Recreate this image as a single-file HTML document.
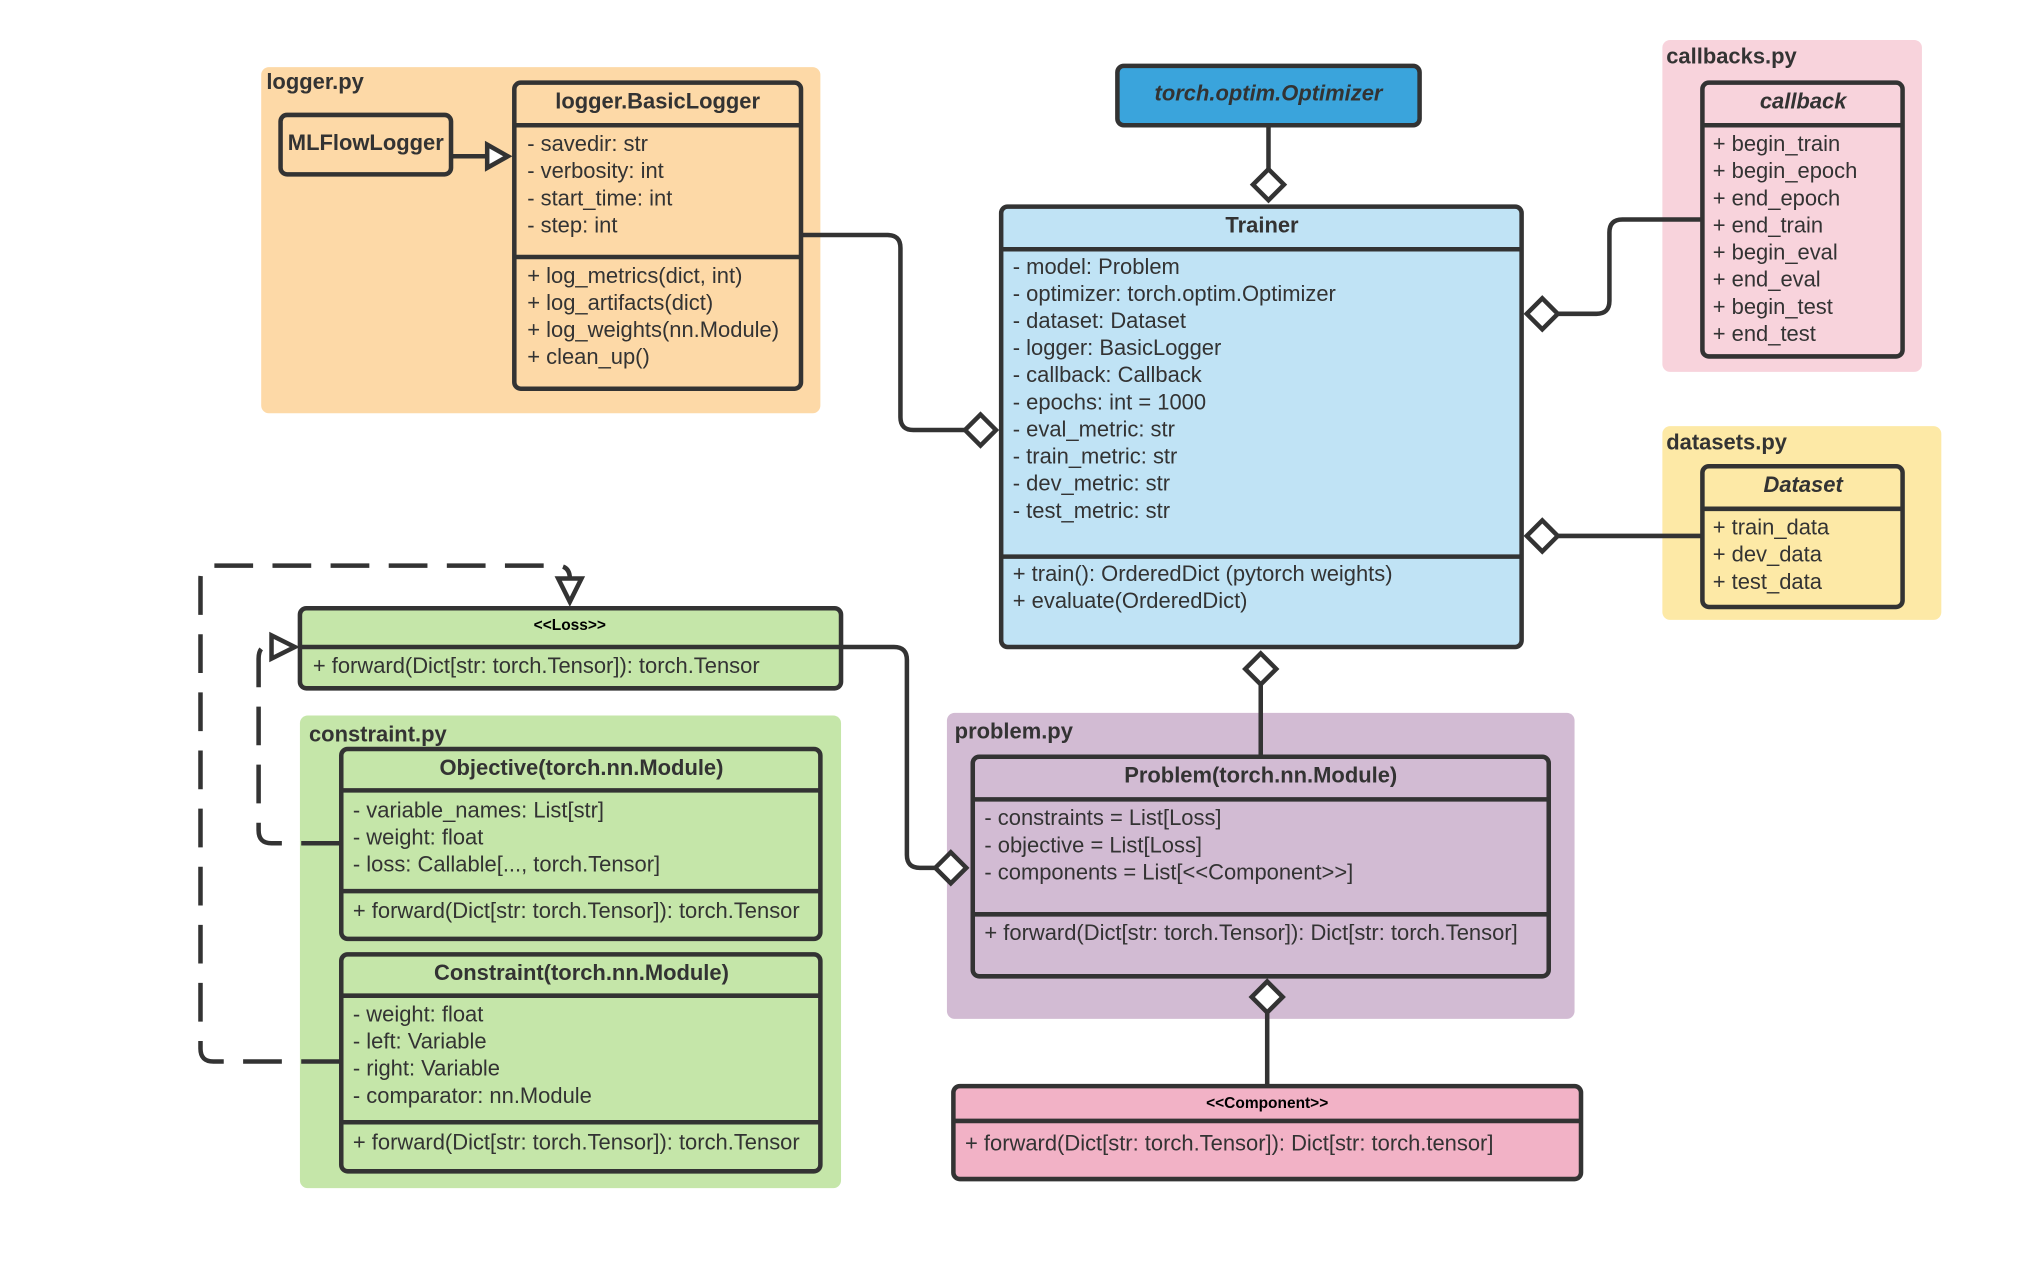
<!DOCTYPE html>
<html><head><meta charset="utf-8"><style>html,body{margin:0;padding:0;background:#fff}svg{display:block}</style></head>
<body>
<svg width="2023" height="1263" viewBox="0 0 1566 978" xmlns="http://www.w3.org/2000/svg" font-family="Liberation Sans, Arial, sans-serif" font-size="17" fill="#333">
<rect width="1566" height="978" fill="#fff"/>
<rect x="202" y="52" width="433" height="268" rx="6" fill="#fdd9a7"/>
<rect x="1287" y="31" width="201" height="257" rx="6" fill="#f8d3dc"/>
<rect x="1287" y="330" width="216" height="150" rx="6" fill="#fde9a6"/>
<rect x="232" y="554" width="419" height="366" rx="6" fill="#c5e6a9"/>
<rect x="733" y="552" width="486" height="237" rx="6" fill="#d2bbd3"/>
<g font-weight="bold" font-size="17">
<text x="206" y="69">logger.py</text>
<text x="1290" y="49">callbacks.py</text>
<text x="1290" y="348">datasets.py</text>
<text x="239" y="574">constraint.py</text>
<text x="739" y="572">problem.py</text>
</g>
<g stroke="#333" stroke-width="3.5" fill="none" stroke-linejoin="round">
<path d="M621 182 H687 Q697 182 697 192 V323 Q697 333 707 333 H748"/>
<path d="M982 97 V131"/>
<path d="M1206 243 H1236 Q1246 243 1246 233 V180 Q1246 170 1256 170 H1317"/>
<path d="M1206 415 H1317"/>
<path d="M976 530 V586"/>
<path d="M981 784 V841"/>
<path d="M651 501 H692 Q702 501 702 511 V662 Q702 672 712 672 H724"/>
<path d="M349 121 H378"/>
<path d="M263 822 H165 Q155 822 155 812 V448 Q155 438 165 438 H431 Q441 438 441 448" stroke-dasharray="30,15"/>
<path d="M263 653 H210 Q200 653 200 643 V510 Q200 500 208 500" stroke-dasharray="30,15"/>
</g>
<g stroke="#333" stroke-width="3.5" fill="#fff" stroke-linejoin="miter">
<polygon points="377,112 393,121 377,130"/>
<polygon points="432,448 450,448 441,466"/>
<polygon points="210,492 228,501 210,510"/>
<polygon points="982,131 994,143 982,155 970,143"/>
<polygon points="1206,243 1194,231 1182,243 1194,255"/>
<polygon points="1206,415 1194,403 1182,415 1194,427"/>
<polygon points="976,506 988,518 976,530 964,518"/>
<polygon points="748,672 736,660 724,672 736,684"/>
<polygon points="771,333 759,321 747,333 759,345"/>
<polygon points="981,760 993,772 981,784 969,772"/>
</g>
<g stroke="#333" stroke-width="3.5">
<rect x="217" y="89" width="132" height="46" rx="5" fill="#fdd9a7"/>
<rect x="398" y="64" width="222" height="237" rx="5" fill="#fdd9a7"/>
<line x1="398" y1="97" x2="620" y2="97"/><line x1="398" y1="199" x2="620" y2="199"/>
<rect x="865" y="51" width="234" height="46" rx="5" fill="#3aa4dc"/>
<rect x="775" y="160" width="403" height="341" rx="5" fill="#c0e3f5"/>
<line x1="775" y1="193" x2="1178" y2="193"/><line x1="775" y1="431" x2="1178" y2="431"/>
<rect x="1318" y="64" width="155" height="212" rx="5" fill="#f8d3dc"/>
<line x1="1318" y1="97" x2="1473" y2="97"/>
<rect x="1318" y="361" width="155" height="109" rx="5" fill="#fde9a6"/>
<line x1="1318" y1="394" x2="1473" y2="394"/>
<rect x="232" y="471" width="419" height="62" rx="5" fill="#c5e6a9"/>
<line x1="232" y1="501" x2="651" y2="501"/>
<rect x="264" y="580" width="371" height="147" rx="5" fill="#c5e6a9"/>
<line x1="264" y1="612" x2="635" y2="612"/><line x1="264" y1="690" x2="635" y2="690"/>
<rect x="264" y="739" width="371" height="168" rx="5" fill="#c5e6a9"/>
<line x1="264" y1="771" x2="635" y2="771"/><line x1="264" y1="869" x2="635" y2="869"/>
<rect x="753" y="586" width="446" height="170" rx="5" fill="#d2bbd3"/>
<line x1="753" y1="619" x2="1199" y2="619"/><line x1="753" y1="708" x2="1199" y2="708"/>
<rect x="738" y="841" width="486" height="72" rx="5" fill="#f2b2c6"/>
<line x1="738" y1="868" x2="1224" y2="868"/>
</g>
<g font-weight="bold" text-anchor="middle">
<text x="283" y="116">MLFlowLogger</text>
<text x="509" y="84">logger.BasicLogger</text>
<text x="982" y="78" font-style="italic">torch.optim.Optimizer</text>
<text x="977" y="180">Trainer</text>
<text x="1396" y="84" font-style="italic">callback</text>
<text x="1396" y="381" font-style="italic">Dataset</text>
<text x="441" y="488" font-size="12" fill="#000">&lt;&lt;Loss&gt;&gt;</text>
<text x="450" y="600">Objective(torch.nn.Module)</text>
<text x="450" y="759">Constraint(torch.nn.Module)</text>
<text x="976" y="606">Problem(torch.nn.Module)</text>
<text x="981" y="858" font-size="12" fill="#000">&lt;&lt;Component&gt;&gt;</text>
</g>
<g>
<text x="408" y="117">- savedir: str</text>
<text x="408" y="138">- verbosity: int</text>
<text x="408" y="159">- start_time: int</text>
<text x="408" y="180">- step: int</text>
<text x="408" y="219">+ log_metrics(dict, int)</text>
<text x="408" y="240">+ log_artifacts(dict)</text>
<text x="408" y="261">+ log_weights(nn.Module)</text>
<text x="408" y="282">+ clean_up()</text>

<text x="784" y="212">- model: Problem</text>
<text x="784" y="233">- optimizer: torch.optim.Optimizer</text>
<text x="784" y="254">- dataset: Dataset</text>
<text x="784" y="275">- logger: BasicLogger</text>
<text x="784" y="296">- callback: Callback</text>
<text x="784" y="317">- epochs: int = 1000</text>
<text x="784" y="338">- eval_metric: str</text>
<text x="784" y="359">- train_metric: str</text>
<text x="784" y="380">- dev_metric: str</text>
<text x="784" y="401">- test_metric: str</text>
<text x="784" y="450">+ train(): OrderedDict (pytorch weights)</text>
<text x="784" y="471">+ evaluate(OrderedDict)</text>

<text x="1326" y="117">+ begin_train</text>
<text x="1326" y="138">+ begin_epoch</text>
<text x="1326" y="159">+ end_epoch</text>
<text x="1326" y="180">+ end_train</text>
<text x="1326" y="201">+ begin_eval</text>
<text x="1326" y="222">+ end_eval</text>
<text x="1326" y="243">+ begin_test</text>
<text x="1326" y="264">+ end_test</text>

<text x="1326" y="414">+ train_data</text>
<text x="1326" y="435">+ dev_data</text>
<text x="1326" y="456">+ test_data</text>

<text x="242" y="521">+ forward(Dict[str: torch.Tensor]): torch.Tensor</text>

<text x="273" y="633">- variable_names: List[str]</text>
<text x="273" y="654">- weight: float</text>
<text x="273" y="675">- loss: Callable[..., torch.Tensor]</text>
<text x="273" y="711">+ forward(Dict[str: torch.Tensor]): torch.Tensor</text>

<text x="273" y="791">- weight: float</text>
<text x="273" y="812">- left: Variable</text>
<text x="273" y="833">- right: Variable</text>
<text x="273" y="854">- comparator: nn.Module</text>
<text x="273" y="890">+ forward(Dict[str: torch.Tensor]): torch.Tensor</text>

<text x="762" y="639">- constraints = List[Loss]</text>
<text x="762" y="660">- objective = List[Loss]</text>
<text x="762" y="681">- components = List[&lt;&lt;Component&gt;&gt;]</text>
<text x="762" y="728">+ forward(Dict[str: torch.Tensor]): Dict[str: torch.Tensor]</text>

<text x="747" y="891">+ forward(Dict[str: torch.Tensor]): Dict[str: torch.tensor]</text>
</g>
</svg>
</body></html>
